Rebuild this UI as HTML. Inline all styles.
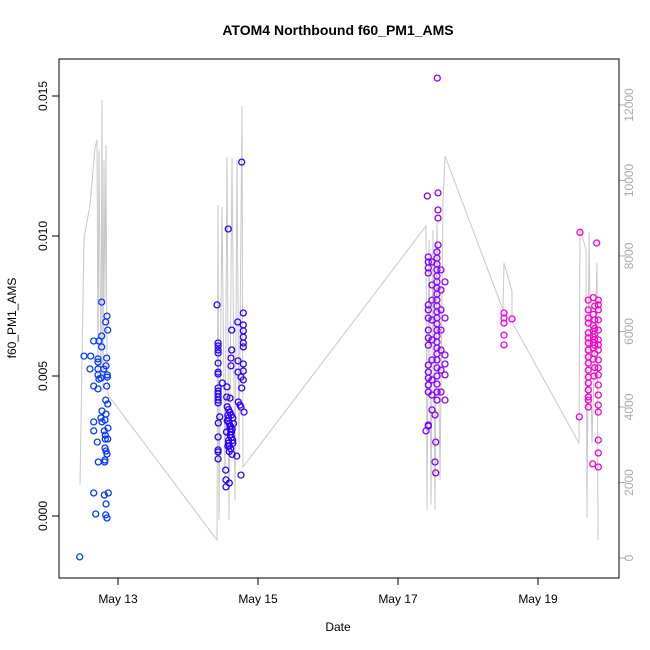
<!DOCTYPE html>
<html><head><meta charset="utf-8"><style>
html,body{margin:0;padding:0;background:#fff;}
svg{display:block;font-family:"Liberation Sans",sans-serif;}
</style></head><body>
<svg id="chart" width="650" height="650" viewBox="0 0 650 650">
<rect x="0" y="0" width="650" height="650" fill="#fff"/>
<text x="338" y="35" text-anchor="middle" font-size="14" font-weight="bold">ATOM4 Northbound f60_PM1_AMS</text>
<text x="338" y="631" text-anchor="middle" font-size="12">Date</text>
<text x="0" y="0" transform="translate(16,318) rotate(-90)" text-anchor="middle" font-size="12">f60_PM1_AMS</text>
<g id="grayline"></g>
<g id="points"></g>
<g id="axes"></g>
<rect x="59" y="59" width="560" height="519" fill="none" stroke="#000" stroke-width="1"/>
</svg>
<script>
const xTickDays=[13,15,17,19];
const xTickLabels=["May 13","May 15","May 17","May 19"];
const yTicks=[0,0.005,0.010,0.015];
const yTickLabels=["0.000","0.005","0.010","0.015"];
const y2Ticks=[0,2000,4000,6000,8000,10000,12000];
// PM1 points: day-of-May and value
const ptDays=[12.767,12.843,12.824,12.853,12.767,12.653,12.729,12.767,12.514,12.61,12.839,12.714,12.714,12.829,12.6,12.714,12.796,12.847,12.714,12.847,12.757,12.729,12.653,12.839,12.714,12.824,12.853,12.771,12.829,12.757,12.814,12.771,12.653,12.857,12.804,12.653,12.819,12.704,12.819,12.853,12.814,12.829,12.843,12.814,12.719,12.81,12.653,12.861,12.804,12.829,12.681,12.824,12.843,12.453,
14.767,14.576,14.414,14.79,14.71,14.79,14.624,14.79,14.43,14.43,14.43,14.43,14.79,14.79,14.79,14.624,14.43,14.614,14.714,14.79,14.43,14.43,14.614,14.714,14.79,14.757,14.79,14.557,14.43,14.43,14.43,14.43,14.43,14.43,14.767,14.49,14.553,14.6,14.719,14.743,14.757,14.8,14.453,14.433,14.43,14.43,14.43,14.43,14.695,14.539,14.757,14.543,14.59,14.543,
14.56,14.58,14.6,14.62,14.64,14.57,14.59,14.61,14.63,14.55,14.6,14.62,14.58,14.64,14.57,14.61,14.59,14.63,14.56,14.6,14.62,14.58,14.65,14.57,14.61,14.59,14.6,14.62,14.58,14.64,
17.419,17.571,17.571,17.571,17.561,17.571,
17.433,17.433,17.433,17.433,17.433,17.433,17.433,17.433,17.433,17.433,17.433,17.433,17.433,17.433,17.433,17.433,
17.486,17.486,17.486,17.486,17.486,17.486,17.486,17.486,17.486,
17.557,17.557,17.557,17.557,17.557,17.557,17.557,17.557,17.557,17.557,17.557,17.557,17.557,17.557,17.557,17.557,17.557,17.557,17.557,17.557,17.557,17.557,17.557,17.557,
17.614,17.614,17.614,17.614,17.614,17.614,17.614,
17.671,17.671,17.671,17.671,17.671,17.671,
17.4,17.433,17.538,17.529,17.538,17.529,
18.514,18.514,18.514,18.629,18.514,18.514,
19.6,19.838,19.59,19.781,
19.719,19.719,19.719,19.719,19.719,19.719,19.719,19.719,19.719,19.719,19.719,19.719,19.719,19.719,19.719,19.719,19.719,
19.861,19.861,19.861,19.861,19.861,19.861,19.861,19.861,19.861,19.861,19.861,19.861,19.861,19.861,19.861,19.861,19.861,19.861,
19.79,19.81,19.79,19.81,19.79,19.81,19.79,19.81,19.79,19.81,19.79,19.81,19.79,19.81,19.79,19.81,19.8];
const ptValues=[0.00764,0.00714,0.00693,0.00664,0.00643,0.00625,0.00625,0.00604,0.00571,0.00571,0.00564,0.00561,0.0055,0.00536,0.00525,0.00525,0.00525,0.00504,0.00504,0.00496,0.00493,0.00489,0.00464,0.00464,0.00454,0.00414,0.004,0.00375,0.00364,0.0035,0.00343,0.00336,0.00336,0.00314,0.00304,0.00304,0.00289,0.00264,0.00275,0.00275,0.00243,0.00232,0.00221,0.002,0.00193,0.00193,0.00082,0.00082,0.00075,0.00043,0.00007,0.00004,-0.00007,-0.00146,
0.01264,0.01025,0.00754,0.00725,0.00693,0.00682,0.00664,0.00661,0.00618,0.00607,0.00593,0.00582,0.00639,0.00618,0.00604,0.00593,0.00546,0.00564,0.00554,0.00543,0.00514,0.00507,0.00536,0.00514,0.00518,0.00496,0.00486,0.00461,0.00457,0.00446,0.00436,0.00425,0.00414,0.00404,0.00457,0.00475,0.00425,0.00421,0.00407,0.00396,0.00389,0.00371,0.00354,0.00332,0.00282,0.00236,0.00229,0.00204,0.00214,0.00164,0.00146,0.00129,0.00118,0.00104,
0.0039,0.0038,0.0037,0.0036,0.0035,0.0034,0.0033,0.0032,0.0031,0.003,0.0029,0.0028,0.0027,0.0026,0.0025,0.0024,0.0023,0.0022,0.0034,0.0031,0.0028,0.0026,0.0033,0.0036,0.0029,0.0025,0.0032,0.003,0.0035,0.0027,
0.01143,0.01154,0.01093,0.01064,0.01564,0.00968,
0.00925,0.00907,0.00886,0.00868,0.00754,0.00736,0.00707,0.00664,0.00636,0.0061,0.00539,0.00514,0.00493,0.00468,0.00443,0.00325,
0.00907,0.00825,0.00771,0.007,0.00629,0.00557,0.00486,0.00432,0.00379,
0.00943,0.00921,0.009,0.00879,0.00857,0.00836,0.00814,0.00793,0.00771,0.0075,0.00729,0.00707,0.00686,0.00664,0.00643,0.00621,0.006,0.00579,0.00557,0.00529,0.005,0.00471,0.00443,0.00414,
0.00879,0.00807,0.00736,0.00664,0.00593,0.00521,0.00443,
0.00836,0.00707,0.00575,0.00543,0.00504,0.00414,
0.00304,0.00321,0.00264,0.00193,0.00154,0.00361,
0.00725,0.00707,0.00689,0.00704,0.00646,0.00611,
0.01013,0.00975,0.00354,0.00186,
0.00771,0.00736,0.00707,0.00689,0.00654,0.00636,0.00618,0.00593,0.00568,0.00546,0.00521,0.00496,0.00475,0.0045,0.00425,0.00414,0.00389,
0.00771,0.00754,0.00736,0.007,0.00664,0.00629,0.00611,0.00593,0.00557,0.00529,0.00504,0.00468,0.00432,0.00396,0.00371,0.00271,0.00225,0.00175,
0.0078,0.0075,0.0072,0.007,0.0068,0.0067,0.0066,0.0065,0.0064,0.0063,0.0062,0.0061,0.006,0.0058,0.0056,0.0053,0.005];
// secondary series (right axis)
const lineDays=[12.457,12.514,12.6,12.671,12.7,12.714,12.729,12.757,12.771,12.786,12.8,12.814,12.829,12.843,12.857,14.414,14.429,14.443,14.486,14.529,14.557,14.586,14.629,14.671,14.7,14.729,14.771,14.786,17.4,17.414,17.443,17.471,17.5,17.529,17.557,17.6,17.643,17.671,18.5,18.514,18.629,18.629,19.586,19.6,19.686,19.7,19.729,19.771,19.843,19.857];
const lineValues=[1934,8477,9351,10861,11073,4715,10808,4715,12132,4450,10543,6834,10940,4980,4318,477,9351,1007,9298,2066,10622,1007,10596,1536,10543,2861,11973,2410,8795,1272,8424,1404,8689,1272,8954,2066,9483,10649,6570,7815,7073,6252,3046,8742,8159,1060,8636,3046,7815,477];

const NS="http://www.w3.org/2000/svg";
function xS(d){return 118+(d-13)*70;}
function yS(v){return 516-v*28000;}
function y2S(v){return 558-v*0.037754;}
const stops=[[12.4,[0,70,255]],[14.6,[45,0,255]],[17.5,[130,0,255]],[18.5,[235,0,235]],[19.9,[255,0,200]]];
function colorAt(d){
  for(let i=0;i<stops.length-1;i++){
    const a=stops[i],b=stops[i+1];
    if(d<=b[0]||i===stops.length-2){
      let t=(d-a[0])/(b[0]-a[0]);t=Math.max(0,Math.min(1,t));
      const c=a[1].map((x,k)=>Math.round(x+(b[1][k]-x)*t));
      return 'rgb('+c.join(',')+')';
    }
  }
}
const gl=document.getElementById('grayline');
const pl=document.createElementNS(NS,'polyline');
pl.setAttribute('points',lineDays.map((d,i)=>xS(d).toFixed(1)+','+y2S(lineValues[i]).toFixed(1)).join(' '));
pl.setAttribute('fill','none');pl.setAttribute('stroke','#c8c8c8');pl.setAttribute('stroke-width','1');


gl.appendChild(pl);

const pg=document.getElementById('points');
ptDays.forEach((d,i)=>{
  const c=document.createElementNS(NS,'circle');
  c.setAttribute('cx',xS(d).toFixed(1));c.setAttribute('cy',yS(ptValues[i]).toFixed(1));
  c.setAttribute('r','3');c.setAttribute('fill','none');
  c.setAttribute('stroke',colorAt(d));c.setAttribute('stroke-width','1.3');
  
  
  pg.appendChild(c);
});

const ax=document.getElementById('axes');
function mk(tag,attrs,txt){const e=document.createElementNS(NS,tag);for(const k in attrs)e.setAttribute(k,attrs[k]);if(txt!==undefined)e.textContent=txt;ax.appendChild(e);return e;}
xTickDays.forEach((d,i)=>{
  const x=xS(d);
  const t=mk('line',{x1:x,x2:x,y1:578,y2:585,stroke:'#000'});
  
  
  const l=mk('text',{x:x,y:603,'text-anchor':'middle','font-size':'12'},xTickLabels[i]);
  
  
});
yTicks.forEach((v,i)=>{
  const y=yS(v);
  const t=mk('line',{x1:52,x2:59,y1:y,y2:y,stroke:'#000'});
  
  
  const l=mk('text',{x:0,y:0,transform:'translate(47,'+y+') rotate(-90)','text-anchor':'middle','font-size':'12'},yTickLabels[i]);
  
  
});
y2Ticks.forEach(v=>{
  const y=y2S(v);
  const t=mk('line',{x1:619,x2:626,y1:y,y2:y,stroke:'#aaa'});
  
  
  const l=mk('text',{x:0,y:0,transform:'translate(633,'+y+') rotate(-90)','text-anchor':'middle','font-size':'12',fill:'#aaa'},String(v));
  
  
});
</script>
</body></html>
